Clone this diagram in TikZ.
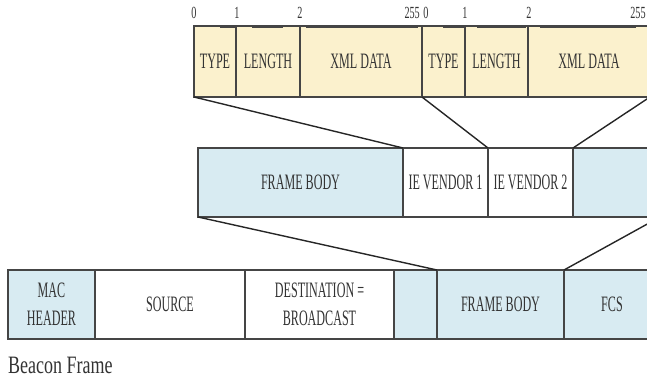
\documentclass[tikz,border=0pt]{standalone}
\usepackage{fontspec}
\newfontfamily\cellfont{Liberation Serif}[FakeStretch=0.55]
\newfontfamily\tickfont{Liberation Serif}[FakeStretch=0.6]
\newfontfamily\capfont{Liberation Serif}[FakeStretch=0.72]
\usetikzlibrary{positioning}
\definecolor{ieBeige}{HTML}{FBF1CD}
\definecolor{ieBlue}{HTML}{D8EBF2}
\definecolor{ieLine}{HTML}{454545}
\definecolor{ieText}{HTML}{333333}
\tikzset{
    % Colors
    fillBeige/.style={fill=ieBeige},
    fillBlue/.style={fill=ieBlue},
    fillWhite/.style={fill=white},
    % Shapes
    cell/.style={rectangle, draw=ieLine, line width=1.2pt, inner sep=0pt, outer sep=0pt,
                 anchor=north west, align=center, text=ieText,
                 font=\cellfont\fontsize{22}{28}\selectfont},
    topcell/.style={cell, minimum height=71pt, fillBeige},
    midcell/.style={cell, minimum height=69pt},
    botcell/.style={cell, minimum height=69pt},
    % Flow & Labels
    link/.style={line width=1.4pt, draw=black!85},
    bar/.style={line width=3pt, draw=ieLine},
    tick/.style={inner sep=0pt, text=ieText, font=\tickfont\fontsize{17}{17}\selectfont},
    caption/.style={inner sep=0pt, anchor=base west, text=ieText,
                    font=\capfont\fontsize{25}{25}\selectfont}
}
\begin{document}
\begin{tikzpicture}[x=1pt, y=-1pt, node distance=0pt]

\useasboundingbox (0,0) rectangle (647,383);
\clip (0,0) rectangle (647,383);

% IE fields
\node[topcell, minimum width=42pt] (type1) at (194,26) {TYPE};
\node[topcell, minimum width=64pt, right=of type1] (len1) {LENGTH};
\node[topcell, minimum width=122pt, right=of len1] (xml1) {XML DATA};
\node[topcell, minimum width=43pt, right=of xml1] (type2) {TYPE};
\node[topcell, minimum width=63pt, right=of type2] (len2) {LENGTH};
\node[topcell, minimum width=122pt, right=of len2] (xml2) {XML DATA};

\foreach \a/\b in {220/235, 252/283, 306/418, 443/465, 477/526, 540/636}
    \draw[bar] (\a,26) -- (\b,26);

\node[tick] (t0) at (194,13) {0};
\node[tick] (t1) at (237,13) {1};
\node[tick] (t2) at (300,13) {2};
\node[tick, anchor=east] (t255) at (420,13) {255};
\node[tick] (u0) at (426,13) {0};
\node[tick] (u1) at (465,13) {1};
\node[tick] (u2) at (529,13) {2};
\node[tick] (u255) at (638,13) {255};

% frame body
\node[midcell, fillBlue, minimum width=205pt] (fbody) at (198,148) {FRAME BODY};
\node[midcell, fillWhite, minimum width=85pt, right=of fbody] (ven1) {IE VENDOR 1};
\node[midcell, fillWhite, minimum width=85pt, right=of ven1] (ven2) {IE VENDOR 2};
\node[midcell, fillBlue, minimum width=87pt, right=of ven2] (rest) {};

% beacon frame
\node[botcell, fillBlue, minimum width=87pt] (mac) at (8,270) {MAC\\HEADER};
\node[botcell, fillWhite, minimum width=150pt, right=of mac] (src) {SOURCE};
\node[botcell, fillWhite, minimum width=149pt, right=of src] (dst) {DESTINATION =\\BROADCAST};
\node[botcell, fillBlue, minimum width=43pt, right=of dst] (gap) {};
\node[botcell, fillBlue, minimum width=127pt, right=of gap] (bbody) {FRAME BODY};
\node[botcell, fillBlue, minimum width=96pt, right=of bbody] (fcs) {FCS};

\node[caption] (cap) at (8,373) {Beacon Frame};

\draw[link] (type1.south west) -- (fbody.north east);
\draw[link] (type2.south west) -- (ven2.north west);
\draw[link] (xml2.south east) -- (rest.north west);
\draw[link] (fbody.south west) -- (bbody.north west);
\draw[link] (rest.south east) -- (fcs.north west);

\end{tikzpicture}
\end{document}
